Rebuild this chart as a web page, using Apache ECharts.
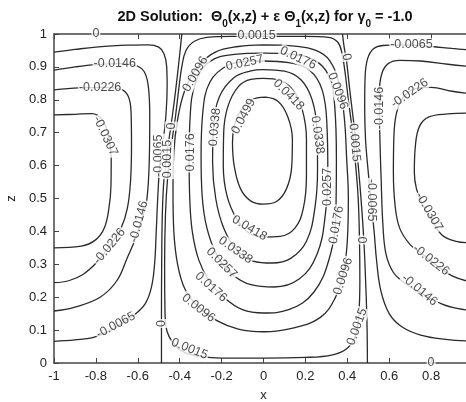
<!DOCTYPE html>
<html>
<head>
<meta charset="utf-8">
<script src="https://cdn.jsdelivr.net/npm/echarts@6/dist/echarts.min.js"></script>
<style>
  html, body { margin: 0; padding: 0; background: #fff; }
  #chart { width: 466px; height: 402px; }
</style>
</head>
<body>
<div id="chart"></div>
<script>
// contour lines as [x, z] pairs

// left cell, negative, open towards x = -1
const leftM0065 = [[-1, 0.945], [-0.9, 0.953], [-0.8, 0.96], [-0.65, 0.966], [-0.55, 0.967], [-0.5, 0.96], [-0.475, 0.94], [-0.462, 0.9], [-0.46, 0.84], [-0.465, 0.76], [-0.478, 0.68], [-0.495, 0.6], [-0.505, 0.5], [-0.512, 0.4], [-0.52, 0.3], [-0.535, 0.23], [-0.565, 0.18], [-0.62, 0.145], [-0.7, 0.11], [-0.8, 0.08], [-0.9, 0.07], [-1, 0.066]]
const leftM0146 = [[-1, 0.89], [-0.9, 0.9], [-0.8, 0.907], [-0.68, 0.91], [-0.6, 0.902], [-0.565, 0.88], [-0.548, 0.83], [-0.543, 0.75], [-0.545, 0.62], [-0.558, 0.49], [-0.58, 0.44], [-0.61, 0.38], [-0.65, 0.32], [-0.7, 0.25], [-0.78, 0.2], [-0.9, 0.17], [-1, 0.158]]
const leftM0226 = [[-1, 0.83], [-0.88, 0.836], [-0.76, 0.838], [-0.68, 0.832], [-0.645, 0.81], [-0.632, 0.76], [-0.63, 0.66], [-0.635, 0.55], [-0.65, 0.47], [-0.68, 0.41], [-0.73, 0.36], [-0.79, 0.31], [-0.86, 0.27], [-0.93, 0.25], [-1, 0.244]]
const leftM0307 = [[-1, 0.754], [-0.9, 0.756], [-0.82, 0.758], [-0.77, 0.74], [-0.74, 0.69], [-0.727, 0.62], [-0.728, 0.54], [-0.738, 0.47], [-0.76, 0.41], [-0.8, 0.375], [-0.87, 0.355], [-1, 0.35]]
const leftZero = [[-0.39, 1.0], [-0.398, 0.95], [-0.41, 0.88], [-0.425, 0.8], [-0.442, 0.72], [-0.46, 0.64], [-0.475, 0.56], [-0.483, 0.45], [-0.486, 0.3], [-0.487, 0.15], [-0.487, 0.0]]

// middle cell, positive, closed loops
const mid0015 = [[0.0, 0.993], [0.2, 0.993], [0.31, 0.99], [0.355, 0.975], [0.375, 0.94], [0.39, 0.88], [0.405, 0.8], [0.425, 0.7], [0.44, 0.6], [0.452, 0.5], [0.458, 0.38], [0.46, 0.25], [0.455, 0.15], [0.44, 0.085], [0.4, 0.045], [0.33, 0.025], [0.2, 0.017], [0.0, 0.015], [-0.2, 0.015], [-0.3, 0.02], [-0.38, 0.033], [-0.43, 0.06], [-0.46, 0.095], [-0.47, 0.15], [-0.472, 0.3], [-0.468, 0.45], [-0.458, 0.56], [-0.44, 0.66], [-0.42, 0.75], [-0.405, 0.83], [-0.39, 0.9], [-0.37, 0.95], [-0.33, 0.978], [-0.27, 0.99], [-0.15, 0.993], [0.0, 0.993]]
const mid0096 = [[0.0, 0.967], [0.15, 0.963], [0.25, 0.95], [0.315, 0.92], [0.36, 0.85], [0.385, 0.75], [0.397, 0.62], [0.405, 0.5], [0.4, 0.37], [0.38, 0.27], [0.34, 0.195], [0.27, 0.138], [0.14, 0.106], [0.0, 0.095], [-0.12, 0.103], [-0.22, 0.128], [-0.31, 0.17], [-0.375, 0.225], [-0.41, 0.3], [-0.428, 0.4], [-0.432, 0.52], [-0.428, 0.64], [-0.41, 0.74], [-0.375, 0.83], [-0.315, 0.9], [-0.23, 0.945], [-0.12, 0.962], [0.0, 0.967]]
const mid0176 = [[0.0, 0.942], [0.14, 0.938], [0.245, 0.92], [0.31, 0.875], [0.34, 0.78], [0.348, 0.62], [0.345, 0.45], [0.315, 0.32], [0.24, 0.215], [0.12, 0.162], [0.0, 0.152], [-0.1, 0.162], [-0.19, 0.2], [-0.26, 0.25], [-0.31, 0.315], [-0.34, 0.4], [-0.352, 0.5], [-0.355, 0.62], [-0.35, 0.75], [-0.325, 0.85], [-0.26, 0.915], [-0.14, 0.938], [0.0, 0.942]]
const mid0257 = [[0.0, 0.918], [0.12, 0.913], [0.22, 0.89], [0.28, 0.83], [0.303, 0.72], [0.307, 0.59], [0.295, 0.45], [0.255, 0.33], [0.17, 0.255], [0.05, 0.231], [-0.06, 0.238], [-0.15, 0.27], [-0.22, 0.325], [-0.27, 0.41], [-0.293, 0.51], [-0.298, 0.63], [-0.29, 0.76], [-0.255, 0.855], [-0.17, 0.905], [-0.07, 0.917], [0.0, 0.918]]
const mid0338 = [[0.0, 0.892], [0.1, 0.887], [0.18, 0.86], [0.232, 0.8], [0.255, 0.71], [0.258, 0.59], [0.245, 0.47], [0.205, 0.37], [0.13, 0.318], [0.04, 0.304], [-0.05, 0.31], [-0.13, 0.345], [-0.19, 0.41], [-0.228, 0.5], [-0.243, 0.61], [-0.238, 0.72], [-0.21, 0.81], [-0.14, 0.868], [-0.06, 0.888], [0.0, 0.892]]
const mid0418 = [[0.0, 0.865], [0.08, 0.858], [0.14, 0.83], [0.185, 0.77], [0.205, 0.68], [0.205, 0.57], [0.19, 0.47], [0.15, 0.41], [0.08, 0.385], [0.0, 0.383], [-0.07, 0.395], [-0.13, 0.44], [-0.175, 0.51], [-0.192, 0.6], [-0.19, 0.7], [-0.17, 0.78], [-0.12, 0.84], [-0.06, 0.862], [0.0, 0.865]]
const mid0499 = [[0.01, 0.808], [0.07, 0.795], [0.115, 0.75], [0.138, 0.68], [0.135, 0.6], [0.11, 0.53], [0.06, 0.49], [0.0, 0.483], [-0.06, 0.492], [-0.11, 0.53], [-0.14, 0.6], [-0.148, 0.67], [-0.13, 0.74], [-0.08, 0.79], [-0.03, 0.806], [0.01, 0.808]]

// right cell, negative, open towards x = 1
const rightZero = [[0.377, 1.0], [0.385, 0.96], [0.396, 0.92], [0.41, 0.84], [0.425, 0.76], [0.44, 0.68], [0.455, 0.58], [0.47, 0.46], [0.48, 0.36], [0.488, 0.24], [0.494, 0.12], [0.496, 0.0]]
const rightM0065 = [[1.0, 0.951], [0.9, 0.956], [0.8, 0.962], [0.65, 0.967], [0.57, 0.965], [0.525, 0.955], [0.497, 0.925], [0.485, 0.87], [0.483, 0.78], [0.487, 0.68], [0.5, 0.58], [0.515, 0.48], [0.528, 0.4], [0.54, 0.31], [0.56, 0.22], [0.6, 0.15], [0.66, 0.11], [0.75, 0.085], [0.87, 0.072], [1.0, 0.066]]
const rightM0146 = [[1.0, 0.9], [0.88, 0.908], [0.75, 0.918], [0.65, 0.92], [0.595, 0.91], [0.565, 0.88], [0.553, 0.82], [0.555, 0.7], [0.562, 0.55], [0.57, 0.42], [0.585, 0.33], [0.62, 0.275], [0.67, 0.245], [0.745, 0.215], [0.85, 0.18], [0.93, 0.165], [1.0, 0.16]]
const rightM0226 = [[1.0, 0.818], [0.9, 0.826], [0.8, 0.838], [0.73, 0.835], [0.67, 0.81], [0.635, 0.76], [0.622, 0.68], [0.62, 0.58], [0.628, 0.48], [0.65, 0.41], [0.7, 0.36], [0.76, 0.33], [0.82, 0.3], [0.9, 0.265], [1.0, 0.245]]
const rightM0307 = [[1.0, 0.76], [0.88, 0.757], [0.79, 0.748], [0.745, 0.72], [0.725, 0.66], [0.72, 0.58], [0.73, 0.53], [0.76, 0.48], [0.8, 0.44], [0.85, 0.39], [0.92, 0.37], [1.0, 0.365]]

// inline level labels: text, x, z, angle
const levelLabels = [
  ['0', -0.8, 1.0, 0],
  ['-0.0146', -0.71, 0.91, 0],
  ['-0.0226', -0.78, 0.836, 0],
  ['-0.0307', -0.755, 0.69, -65],
  ['-0.0065', -0.5, 0.63, 90],
  ['0.0015', -0.458, 0.62, 90],
  ['0', -0.44, 0.72, 90],
  ['-0.0146', -0.595, 0.43, 75],
  ['-0.0226', -0.735, 0.355, 50],
  ['-0.0065', -0.705, 0.115, 28],
  ['0', -0.487, 0.12, 90],
  ['0.0015', -0.033, 0.995, 0],
  ['0.0096', -0.325, 0.878, 60],
  ['0.0257', -0.09, 0.912, 12],
  ['0.0176', 0.165, 0.927, -25],
  ['0.0418', 0.12, 0.815, -45],
  ['0.0499', -0.095, 0.75, 62],
  ['0.0338', -0.232, 0.717, 85],
  ['0.0176', -0.35, 0.64, 90],
  ['0.0338', 0.258, 0.693, -82],
  ['0.0096', 0.355, 0.827, -70],
  ['0.0015', 0.435, 0.67, -85],
  ['0', 0.396, 0.93, -80],
  ['0.0257', 0.305, 0.535, 90],
  ['0.0176', 0.348, 0.42, 80],
  ['0.0096', 0.38, 0.264, 72],
  ['0.0015', 0.447, 0.11, 70],
  ['0', 0.478, 0.374, 90],
  ['0.0418', -0.067, 0.41, -30],
  ['0.0338', -0.134, 0.343, -35],
  ['0.0257', -0.2, 0.304, -45],
  ['0.0176', -0.25, 0.231, -42],
  ['0.0096', -0.31, 0.167, -38],
  ['0.0015', -0.353, 0.043, -22],
  ['-0.0065', 0.706, 0.967, 0],
  ['-0.0146', 0.554, 0.775, 90],
  ['-0.0226', 0.697, 0.82, 35],
  ['-0.0065', 0.516, 0.495, -90],
  ['-0.0307', 0.79, 0.46, -60],
  ['-0.0226', 0.8, 0.313, -38],
  ['-0.0146', 0.745, 0.222, -40],
  ['0', 0.8, 0.0, 0]
]

const contourLines = [
  leftM0065, leftM0146, leftM0226, leftM0307, leftZero,
  mid0015, mid0096, mid0176, mid0257, mid0338, mid0418, mid0499,
  rightZero, rightM0065, rightM0146, rightM0226, rightM0307
]

const font = 'Liberation Sans, Arial, Helvetica, sans-serif'
const ink = '#222'

const chart = echarts.init(document.getElementById('chart'))

const lineSeries = contourLines.map(pts => ({
  type: 'line',
  data: pts,
  smooth: 0.4,
  showSymbol: false,
  symbol: 'none',
  silent: true,
  z: 2,
  lineStyle: { color: '#2a2a2a', width: 1.3 }
}))

const labelSeries = {
  type: 'scatter',
  symbolSize: 0,
  silent: true,
  z: 5,
  data: levelLabels.map(l => ({
    value: [l[1], l[2]],
    label: {
      show: true,
      position: 'inside',
      formatter: l[0],
      rotate: l[3],
      fontFamily: font,
      fontSize: 12.5,
      color: ink,
      backgroundColor: '#fff',
      padding: [0, 1]
    }
  }))
}

const axisCommon = {
  type: 'value',
  axisLine: { show: true, onZero: false, lineStyle: { color: '#444', width: 1.5 } },
  axisTick: { show: true, inside: true, length: 5, lineStyle: { color: '#444', width: 1 } },
  splitLine: { show: false }
}

chart.setOption({
  animation: false,
  backgroundColor: '#fff',
  graphic: [{
    type: 'text',
    x: 265,
    y: 9,
    style: {
      text: '{b|2D Solution:  Θ}{s|0}{b|(x,z) + ε Θ}{s|1}{b|(x,z) for γ}{s|0}{b| = -1.0}',
      align: 'center',
      verticalAlign: 'top',
      rich: {
        b: { fontFamily: font, fontWeight: 'bold', fontSize: 14.5, lineHeight: 17, verticalAlign: 'top', fill: '#111' },
        s: { fontFamily: font, fontWeight: 'bold', fontSize: 10, lineHeight: 11, verticalAlign: 'top', padding: [10, 0, 0, 0], fill: '#111' }
      }
    }
  }],
  grid: { left: 54, width: 419, top: 34, bottom: 39, outerBoundsMode: 'none', containLabel: false },
  xAxis: [
    Object.assign({}, axisCommon, {
      min: -1, max: 1, interval: 0.2,
      position: 'bottom',
      name: 'x',
      nameLocation: 'middle',
      nameGap: 26,
      nameTextStyle: { fontFamily: font, fontSize: 13, color: ink },
      axisLabel: { fontFamily: font, fontSize: 13, color: ink, margin: 7 }
    }),
    Object.assign({}, axisCommon, {
      min: -1, max: 1, interval: 0.2,
      position: 'top',
      axisLabel: { show: false }
    })
  ],
  yAxis: [
    Object.assign({}, axisCommon, {
      min: 0, max: 1, interval: 0.1,
      position: 'left',
      name: 'z',
      nameLocation: 'middle',
      nameGap: 34,
      nameRotate: 90,
      nameTextStyle: { fontFamily: font, fontSize: 13, color: ink },
      axisLabel: { fontFamily: font, fontSize: 13, color: ink, margin: 7 }
    }),
    Object.assign({}, axisCommon, {
      min: 0, max: 1, interval: 0.1,
      position: 'right',
      axisLabel: { show: false }
    })
  ],
  series: lineSeries.concat([labelSeries])
})
</script>
</body>
</html>
